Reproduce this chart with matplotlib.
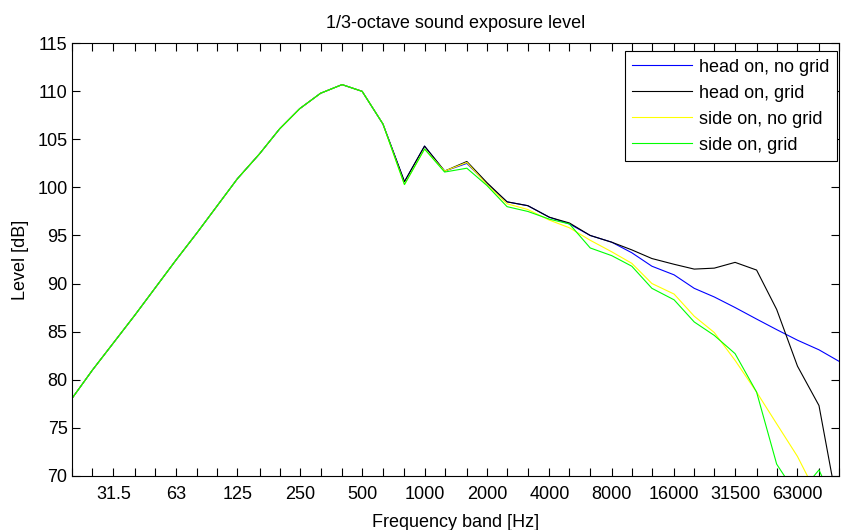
import matplotlib
matplotlib.use("Agg")
import matplotlib.pyplot as plt
import numpy as np

plt.rcParams["font.family"] = ["Liberation Sans", "DejaVu Sans"]

# nominal 1/3-octave band centres (Hz)
bands = [20, 25, 31.5, 40, 50, 63, 80, 100, 125, 160, 200, 250, 315, 400, 500,
         630, 800, 1000, 1250, 1600, 2000, 2500, 3150, 4000, 5000, 6300, 8000,
         10000, 12500, 16000, 20000, 25000, 31500, 40000, 50000, 63000, 80000, 100000]

# levels (dB), one value per band
common_low = [78.1, 81.0, 83.8, 86.7, 89.5, 92.4, 95.3, 98.1, 100.9, 103.5,
              106.1, 108.2, 109.8, 110.7, 110.0, 106.6]

head_no_grid = common_low + [100.6, 104.3, 101.7, 102.5, 100.4, 98.5, 98.1, 96.9,
                             96.2, 95.0, 94.3, 93.2, 91.8, 90.9, 89.5, 88.6, 87.5,
                             86.3, 85.2, 84.1, 83.1, 81.9]
head_grid = common_low + [100.6, 104.3, 101.7, 102.7, 100.5, 98.5, 98.1, 96.9,
                          96.3, 95.0, 94.3, 93.5, 92.6, 92.0, 91.5, 91.6, 92.2,
                          91.4, 87.3, 81.4, 77.3, 66.0]
side_no_grid = common_low + [100.3, 104.0, 101.7, 102.6, 100.3, 98.3, 97.7, 96.6,
                             95.8, 94.5, 93.3, 92.1, 90.0, 88.9, 86.6, 84.9, 82.0,
                             78.7, 75.4, 72.0, 67.6, 64.0]
side_grid = common_low + [100.3, 104.0, 101.6, 102.0, 100.2, 98.0, 97.5, 96.7,
                          96.2, 93.7, 92.9, 91.8, 89.5, 88.3, 86.0, 84.6, 82.7,
                          78.7, 71.2, 67.9, 70.6, 66.0]

series = [
    ("head on, no grid", head_no_grid, "#0000ff"),
    ("head on, grid", head_grid, "#000000"),
    ("side on, no grid", side_no_grid, "#ffff00"),
    ("side on, grid", side_grid, "#00ff00"),
]

tick_labels = ["31.5", "63", "125", "250", "500", "1000", "2000", "4000",
               "8000", "16000", "31500", "63000"]

fs = 13

fig = plt.figure(figsize=(8.41, 5.30), dpi=100)
ax = fig.add_axes([0.0861, 0.1025, 0.9116, 0.8158])

for label, values, color in series:
    ax.plot(bands, values, color=color, lw=0.8, label=label)

ax.set_xscale("log")
ax.set_xlim(20, 96300)
ax.set_ylim(70, 115)
ax.set_yticks(np.arange(70, 116, 5))

# a tick on every band, a label on every third one
ax.set_xticks(bands)
names = [f"{b:g}" for b in bands]
ax.set_xticklabels([n if n in tick_labels else "" for n in names])
ax.xaxis.set_minor_locator(matplotlib.ticker.NullLocator())

ax.tick_params(direction="in", length=6, width=0.8, top=True, right=True,
               labelsize=fs)
ax.tick_params(axis="x", pad=7.5)
ax.tick_params(axis="y", pad=3.5)
for sp in ax.spines.values():
    sp.set_linewidth(0.8)

ax.set_title("1/3-octave sound exposure level", fontsize=fs, pad=11)
ax.set_xlabel("Frequency band [Hz]", fontsize=fs, labelpad=8)
ax.set_ylabel("Level [dB]", fontsize=fs, labelpad=6)

leg = ax.legend(loc="upper right", bbox_to_anchor=(0.9973, 0.982), borderaxespad=0,
                fontsize=fs, frameon=True, fancybox=False, framealpha=1,
                edgecolor="black", handlelength=3.3, handletextpad=0.4,
                labelspacing=0.5, borderpad=0.42)
leg.get_frame().set_linewidth(0.8)

fig.savefig("out.png", dpi=100)
